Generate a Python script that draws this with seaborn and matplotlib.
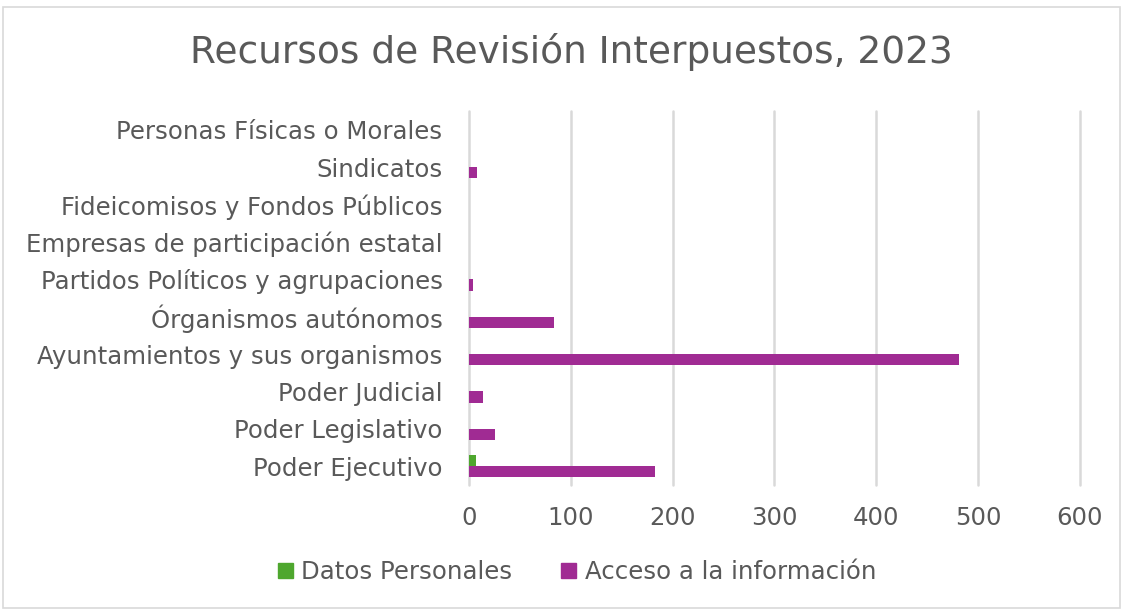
import matplotlib
matplotlib.use("Agg")
import matplotlib.pyplot as plt
import seaborn as sns
import pandas as pd
from matplotlib.patches import Rectangle

categories = [
    "Personas Físicas o Morales",
    "Sindicatos",
    "Fideicomisos y Fondos Públicos",
    "Empresas de participación estatal",
    "Partidos Políticos y agrupaciones",
    "Órganismos autónomos",
    "Ayuntamientos y sus organismos",
    "Poder Judicial",
    "Poder Legislativo",
    "Poder Ejecutivo",
]
datos_personales = [0, 0, 0, 0, 0, 0, 0, 0, 0, 7]
acceso_informacion = [0, 8, 0, 0, 4, 84, 481, 14, 26, 183]
series_names = ["Datos Personales", "Acceso a la información"]
x_ticks = [0, 100, 200, 300, 400, 500, 600]

df = pd.DataFrame({
    "Categoría": categories * 2,
    "Serie": [series_names[0]] * len(categories) + [series_names[1]] * len(categories),
    "Valor": datos_personales + acceso_informacion,
})

sns.set_theme(style="white")
plt.rcParams["font.family"] = ["DejaVu Sans"]
text_color = "#595959"

fig = plt.figure(figsize=(11.23, 6.10), dpi=100)
fig.patches.append(Rectangle((0.003, 0.003), 0.994, 0.985, transform=fig.transFigure,
                             fill=False, edgecolor="#D9D9D9", linewidth=1.2))
ax = fig.add_axes([0.4176, 0.205, 0.544, 0.613])

sns.barplot(data=df, y="Categoría", x="Valor", hue="Serie", order=categories,
            hue_order=series_names, palette=["#4EA72E", "#A02B93"], orient="h",
            width=0.6, ax=ax, legend=True, saturation=1, linewidth=0)

ax.set_xlim(0, 600)
ax.set_xticks(x_ticks)
ax.set_xticklabels([str(t) for t in x_ticks])
ax.set_ylim(9.5, -0.5)
ax.set_xlabel("")
ax.set_ylabel("")
ax.grid(axis="x", color="#D9D9D9", linewidth=1.8)
ax.grid(axis="y", visible=False)
for gl in ax.get_xgridlines():
    gl.set_clip_on(False)
ax.set_axisbelow(True)
for s in ax.spines.values():
    s.set_visible(False)
ax.tick_params(axis="y", length=0, pad=19, labelsize=17.6, labelcolor=text_color)
ax.tick_params(axis="x", length=0, pad=15, labelsize=17.6, labelcolor=text_color)

fig.text(0.5085, 0.915, "Recursos de Revisión Interpuestos, 2023", ha="center", va="center",
         fontsize=27, color=text_color)

ax.get_legend().remove()
handles = [Rectangle((0, 0), 1, 1, color=c) for c in ["#4EA72E", "#A02B93"]]
fig.legend(handles, series_names, loc="center", bbox_to_anchor=(0.514, 0.062), ncol=2,
           frameon=False, fontsize=17.6, labelcolor=text_color, handlelength=0.6,
           handleheight=0.6, handletextpad=0.35, columnspacing=2.0)

fig.savefig("out.png", dpi=100)
